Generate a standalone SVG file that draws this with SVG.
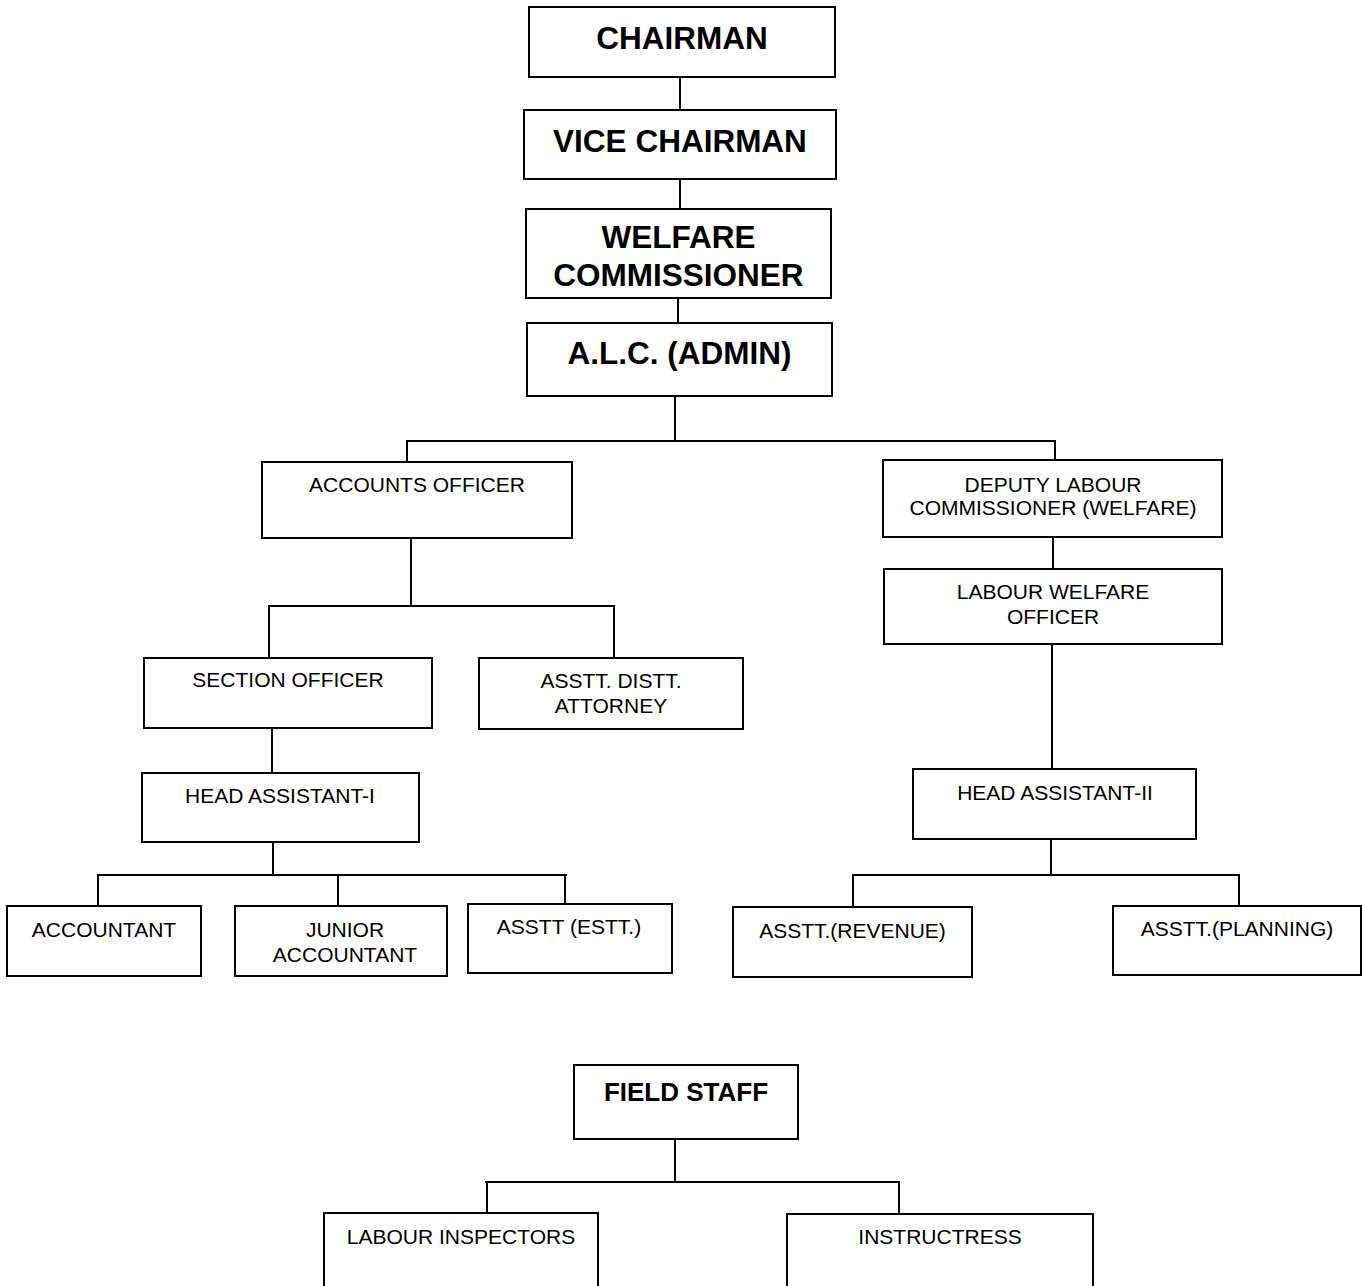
<svg xmlns="http://www.w3.org/2000/svg" width="1362" height="1286" viewBox="0 0 1362 1286">
<style>
.box{fill:#fff;stroke:#000;stroke-width:2}
.ln{stroke:#000;stroke-width:2;fill:none}
.b{font-family:"Liberation Sans",Arial,sans-serif;font-weight:bold;font-size:31.5px;text-anchor:middle;fill:#000}
.fs{font-family:"Liberation Sans",Arial,sans-serif;font-weight:bold;font-size:26px;text-anchor:middle;fill:#000}
.r{font-family:"Liberation Sans",Arial,sans-serif;font-size:21px;text-anchor:middle;fill:#000}
</style>
<rect width="1362" height="1286" fill="#fff"/>
<g id="connectors" class="ln">
<path d="M680 77V110"/>
<path d="M680 179V209"/>
<path d="M678 298V323"/>
<path d="M675 396V441"/>
<path d="M406 441H1056"/>
<path d="M407 441V462"/>
<path d="M1055 441V460"/>
<path d="M411 538V606"/>
<path d="M268 606H615"/>
<path d="M269 606V658"/>
<path d="M614 606V658"/>
<path d="M272 728V773"/>
<path d="M273 842V875"/>
<path d="M97 875H567"/>
<path d="M98 875V906"/>
<path d="M338 875V906"/>
<path d="M565 875V904"/>
<path d="M1053 537V569"/>
<path d="M1052 644V769"/>
<path d="M1051 839V875"/>
<path d="M852 875H1240"/>
<path d="M853 875V907"/>
<path d="M1239 875V906"/>
<path d="M675 1139V1182"/>
<path d="M485 1182H900"/>
<path d="M487 1182V1213"/>
<path d="M899 1182V1214"/>
</g>
<g id="chairman"><rect class="box" x="529" y="7" width="306" height="70"/><text class="b" x="682" y="49">CHAIRMAN</text></g>
<g id="vice-chairman"><rect class="box" x="524" y="110" width="312" height="69"/><text class="b" x="680" y="152">VICE CHAIRMAN</text></g>
<g id="welfare-commissioner"><rect class="box" x="526" y="209" width="305" height="89"/><text class="b" x="678.5" y="248">WELFARE</text><text class="b" x="678.5" y="286">COMMISSIONER</text></g>
<g id="alc-admin"><rect class="box" x="527" y="323" width="305" height="73"/><text class="b" x="679.5" y="364">A.L.C. (ADMIN)</text></g>
<g id="accounts-officer"><rect class="box" x="262" y="462" width="310" height="76"/><text class="r" x="417" y="492">ACCOUNTS OFFICER</text></g>
<g id="deputy-labour-commissioner"><rect class="box" x="883" y="460" width="339" height="77"/><text class="r" x="1053" y="492">DEPUTY LABOUR</text><text class="r" x="1053" y="515">COMMISSIONER (WELFARE)</text></g>
<g id="labour-welfare-officer"><rect class="box" x="884" y="569" width="338" height="75"/><text class="r" x="1053" y="599">LABOUR WELFARE</text><text class="r" x="1053" y="624">OFFICER</text></g>
<g id="section-officer"><rect class="box" x="144" y="658" width="288" height="70"/><text class="r" x="288" y="687">SECTION OFFICER</text></g>
<g id="asstt-distt-attorney"><rect class="box" x="479" y="658" width="264" height="71"/><text class="r" x="611" y="688">ASSTT. DISTT.</text><text class="r" x="611" y="712.5">ATTORNEY</text></g>
<g id="head-assistant-1"><rect class="box" x="142" y="773" width="277" height="69"/><text class="r" x="280" y="803">HEAD ASSISTANT-I</text></g>
<g id="accountant"><rect class="box" x="7" y="906" width="194" height="70"/><text class="r" x="104" y="937">ACCOUNTANT</text></g>
<g id="junior-accountant"><rect class="box" x="235" y="906" width="212" height="70"/><text class="r" x="345" y="937">JUNIOR</text><text class="r" x="345" y="962">ACCOUNTANT</text></g>
<g id="asstt-estt"><rect class="box" x="468" y="904" width="204" height="69"/><text class="r" x="569" y="934">ASSTT (ESTT.)</text></g>
<g id="head-assistant-2"><rect class="box" x="913" y="769" width="283" height="70"/><text class="r" x="1055" y="800">HEAD ASSISTANT-II</text></g>
<g id="asstt-revenue"><rect class="box" x="733" y="907" width="239" height="70"/><text class="r" x="852.5" y="937.5">ASSTT.(REVENUE)</text></g>
<g id="asstt-planning"><rect class="box" x="1113" y="906" width="248" height="69"/><text class="r" x="1237" y="936">ASSTT.(PLANNING)</text></g>
<g id="field-staff"><rect class="box" x="574" y="1065" width="224" height="74"/><text class="fs" x="686" y="1101">FIELD STAFF</text></g>
<g id="labour-inspectors"><rect class="box" x="324" y="1213" width="274" height="90"/><text class="r" x="461" y="1244">LABOUR INSPECTORS</text></g>
<g id="instructress"><rect class="box" x="787" y="1214" width="306" height="90"/><text class="r" x="940" y="1244">INSTRUCTRESS</text></g>
</svg>
